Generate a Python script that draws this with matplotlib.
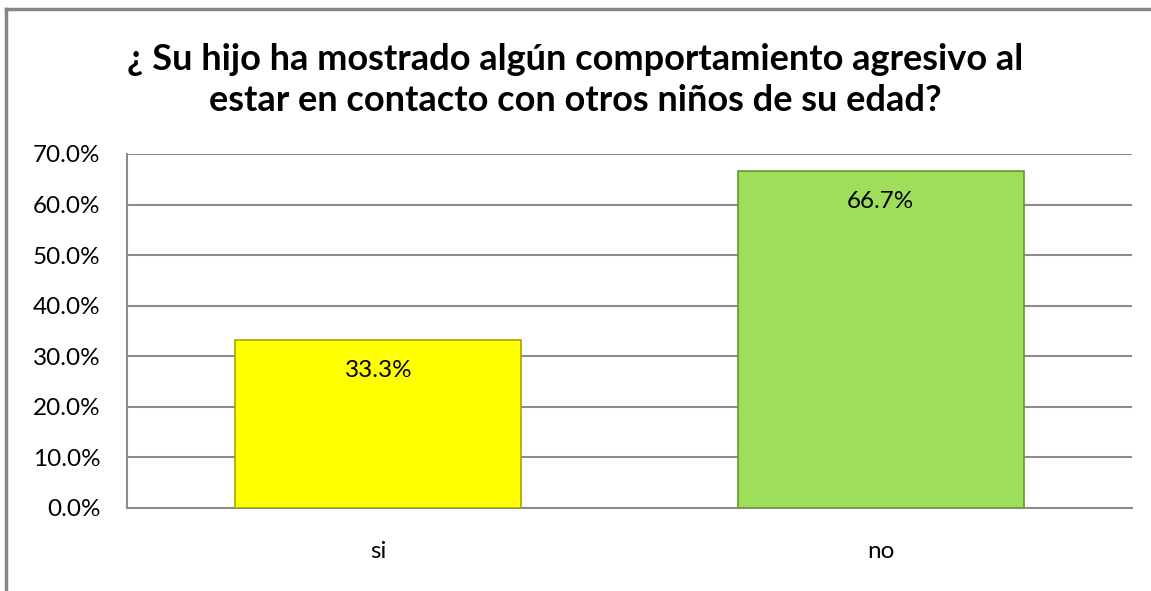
import matplotlib.pyplot as plt
from matplotlib.lines import Line2D

# data
categories = ['si', 'no']
values = [0.333, 0.667]
labels = ['33.3%', '66.7%']
colors = ['#FFFF00', '#9EDE5B']
edges = ['#A8A800', '#5E9A2E']
yticks = [0.0, 0.1, 0.2, 0.3, 0.4, 0.5, 0.6, 0.7]

plt.rcParams['font.family'] = ['Lato', 'DejaVu Sans']

fig = plt.figure(figsize=(11.51, 5.91), dpi=100)
W, H = 1151, 591
ax = fig.add_axes([127 / W, 1 - 508 / H, (1132 - 127) / W, (508 - 154) / H])

# chart border (only top and left visible in the picture)
fig.add_artist(Line2D([6 / W, 1], [1 - 9 / H, 1 - 9 / H], color='#868686', lw=2.5))
fig.add_artist(Line2D([6 / W, 6 / W], [0, 1 - 9 / H], color='#868686', lw=2.5))

x = range(len(categories))
bars = ax.bar(x, values, width=0.57, color=colors, edgecolor=edges, linewidth=1.2, zorder=3)

for b, lab in zip(bars, labels):
    ax.text(b.get_x() + b.get_width() / 2, b.get_height() - 0.04, lab,
            ha='center', va='top', fontsize=17.5, color='black', zorder=4)

ax.set_xlim(-0.5, 1.5)
ax.set_ylim(0, 0.7)
ax.set_yticks(yticks)
ax.set_yticklabels(['%.1f%%' % (t * 100) for t in yticks], fontsize=17.5)
ax.set_xticks(list(x))
ax.set_xticklabels(categories, fontsize=17.5)
ax.tick_params(axis='both', length=0)
ax.tick_params(axis='x', pad=24)
ax.tick_params(axis='y', pad=19)
ax.grid(axis='y', color='#8C8C8C', lw=1.5, zorder=0)

for s in ['top', 'right']:
    ax.spines[s].set_visible(False)
for s in ['left', 'bottom']:
    ax.spines[s].set_color('#8C8C8C')
    ax.spines[s].set_linewidth(1.5)

fig.text(0.5, 1 - 80 / H,
         '¿ Su hijo ha mostrado algún comportamiento agresivo al\nestar en contacto con otros niños de su edad?',
         ha='center', va='center', fontsize=26, fontweight='bold', linespacing=1.3)

fig.savefig('out.png', dpi=100)
